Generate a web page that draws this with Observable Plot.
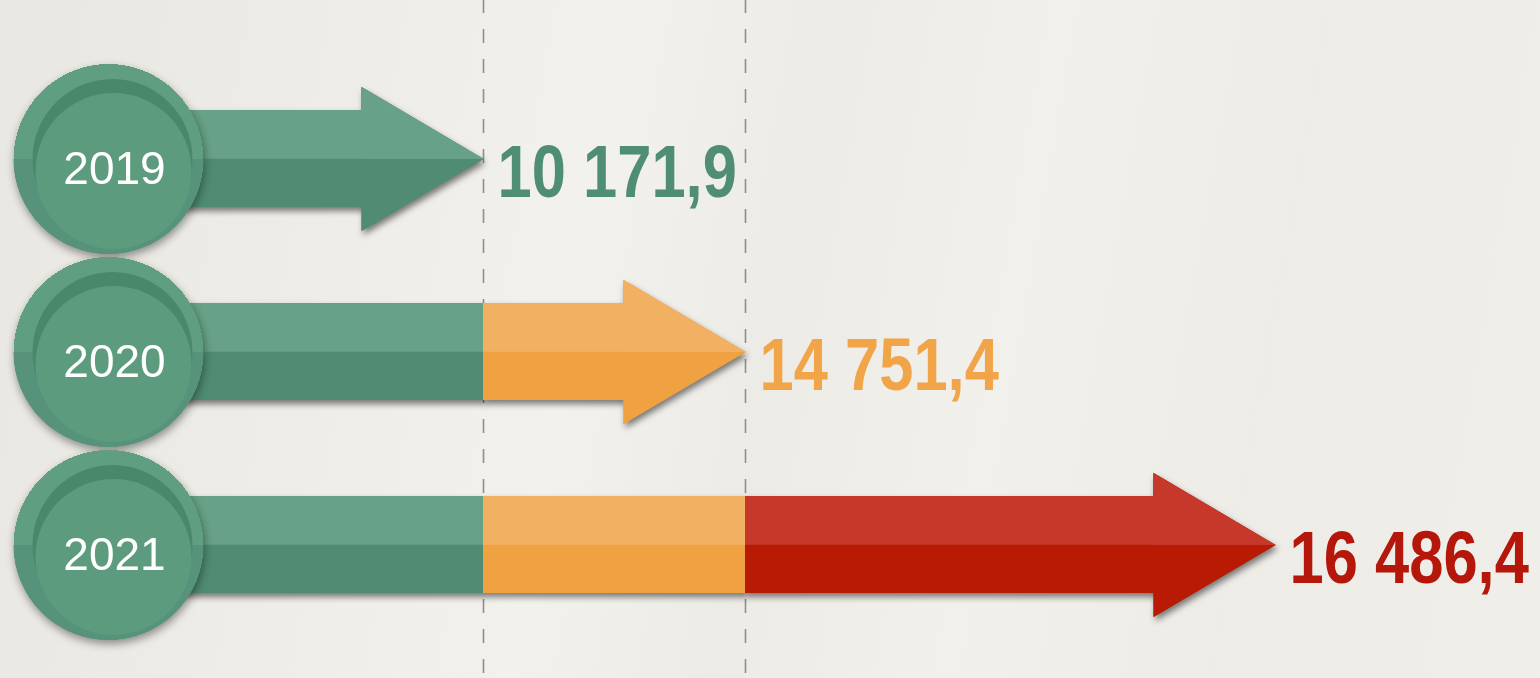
<!DOCTYPE html>
<html><head><meta charset="utf-8">
<script src="https://cdn.jsdelivr.net/npm/d3@7"></script>
<script src="https://cdn.jsdelivr.net/npm/@observablehq/plot@0.6"></script>
<style>
html,body{margin:0;padding:0;width:1540px;height:678px;overflow:hidden;}
body{background:linear-gradient(100deg,#e8e7e2 0%,#edece7 20%,#f2f1ec 38%,#ecebe6 50%,#f1f0eb 64%,#edece7 80%,#efeee9 100%);}
#chart svg{display:block;}
g[shape-rendering="geometricPrecision"]{filter:drop-shadow(2px 4px 3px rgba(0,0,0,.5));}
g[shape-rendering="optimizeSpeed"]{filter:drop-shadow(1px 4px 4px rgba(0,0,0,.4));}
</style></head><body><div id="chart"></div><script>
const years = ["2019", "2020", "2021"];
const values = [10171.9, 14751.4, 16486.4];
const lightColors = ["#67a187", "#f2b063", "#c6392a"];
const darkColors = ["#4f8c71", "#f0a142", "#b81a04"];
const labelColors = ["#4f8e72", "#f1a448", "#b5180b"];

const segments = [];
years.forEach((year, i) => {
  for (let j = 0; j <= i; j++) {
    segments.push({year, x1: j ? values[j - 1] : 0, x2: values[j], seg: j, last: j === i});
  }
});
const tips = years.map((year, i) => ({year, value: values[i], seg: i}));
const fmt = d3.formatLocale({decimal: ",", thousands: " ", grouping: [3], currency: ["", ""]}).format(",.1f");

const HL = 122, HH = 72, BW = 96.5, R = 95;
const headFull = {draw(ctx) { ctx.moveTo(0, 0); ctx.lineTo(-HL, -HH); ctx.lineTo(-HL, HH); ctx.closePath(); }};
const headTop = {draw(ctx) { ctx.moveTo(0, 0); ctx.lineTo(-HL, -HH); ctx.lineTo(-HL, 0); ctx.closePath(); }};
const lowerHalfDisc = {draw(ctx) { ctx.moveTo(R, 0); ctx.arc(0, 0, R, 0, Math.PI); ctx.closePath(); }};

const inner = segments.filter(d => !d.last);
const lasts = segments.filter(d => d.last);
const SH = "geometricPrecision"; // hook for arrow shadow
const CS = "optimizeSpeed";      // hook for circle shadow

// dark (lower) arrow layer; with a shadow hook or plain
const darkLayer = (hook) => [
  Plot.barX(inner, {x1: "x1", x2: "x2", y: "year", fill: d => darkColors[d.seg], shapeRendering: hook}),
  Plot.barX(lasts, {x1: "x1", x2: "x2", y: "year", fill: d => darkColors[d.seg], insetRight: HL - 2, shapeRendering: hook}),
  Plot.dot(tips, {x: "value", y: "year", r: 10, symbol: headFull, fill: d => darkColors[d.seg], stroke: "none", shapeRendering: hook})
];

const chart = Plot.plot({
  width: 1540,
  height: 678,
  margin: 0,
  style: {background: "transparent", overflow: "visible"},
  x: {type: "linear", domain: [0, values[0], values[1], values[2]], range: [108, 483, 745, 1275], axis: null},
  y: {type: "band", domain: years, range: [61.5, 640.5], paddingInner: 0.5, paddingOuter: 0.25, axis: null},
  marks: [
    Plot.ruleX(values.slice(0, 2), {stroke: "#8e8e8e", strokeWidth: 1.6, strokeDasharray: "14,16", strokeDashoffset: 1}),
    ...darkLayer(SH),
    ...darkLayer("auto"),
    // light (upper) layer
    Plot.barX(inner, {x1: "x1", x2: "x2", y: "year", fill: d => lightColors[d.seg], insetBottom: BW / 2}),
    Plot.barX(lasts, {x1: "x1", x2: "x2", y: "year", fill: d => lightColors[d.seg], insetBottom: BW / 2, insetRight: HL - 2}),
    Plot.dot(tips, {x: "value", y: "year", r: 10, symbol: headTop, fill: d => lightColors[d.seg], stroke: "none"}),
    // circles
    Plot.dot(years, {x: () => 0, y: d => d, r: R, fill: "#609e82", stroke: "none", shapeRendering: CS}),
    Plot.dot(years, {x: () => 0, y: d => d, r: 10, symbol: lowerHalfDisc, fill: "#56937a", stroke: "none"}),
    Plot.dot(years, {x: () => 0, y: d => d, r: 80, dx: 4, dy: 0, fill: "#4b876b", stroke: "none"}),
    Plot.dot(years, {x: () => 0, y: d => d, r: 78, dx: 5, dy: 12, fill: "#5c9b7d", stroke: "none"}),
    // year labels
    Plot.text(years, {x: () => 0, y: d => d, text: d => d, dx: 6, dy: 10, fill: "white", fontSize: 46, fontFamily: "'Liberation Sans', Arial, sans-serif"}),
    // value labels
    Plot.text(tips, {x: "value", y: "year", text: d => fmt(d.value), dx: 14, dy: 14, textAnchor: "start", fill: d => labelColors[d.seg], fontSize: 75, fontWeight: "bold", fontFamily: "'Liberation Sans', Arial, sans-serif"})
  ]
});
// narrow the value labels (Arial Narrow look)
chart.querySelectorAll('g[font-size="75"] text').forEach(el => {
  const t = el.getAttribute("transform") || "";
  const x = +el.getAttribute("x") || 0;
  el.setAttribute("transform", `${t} translate(${x},0) scale(0.82,1) translate(${-x},0)`);
});
document.getElementById("chart").appendChild(chart);
</script></body></html>
